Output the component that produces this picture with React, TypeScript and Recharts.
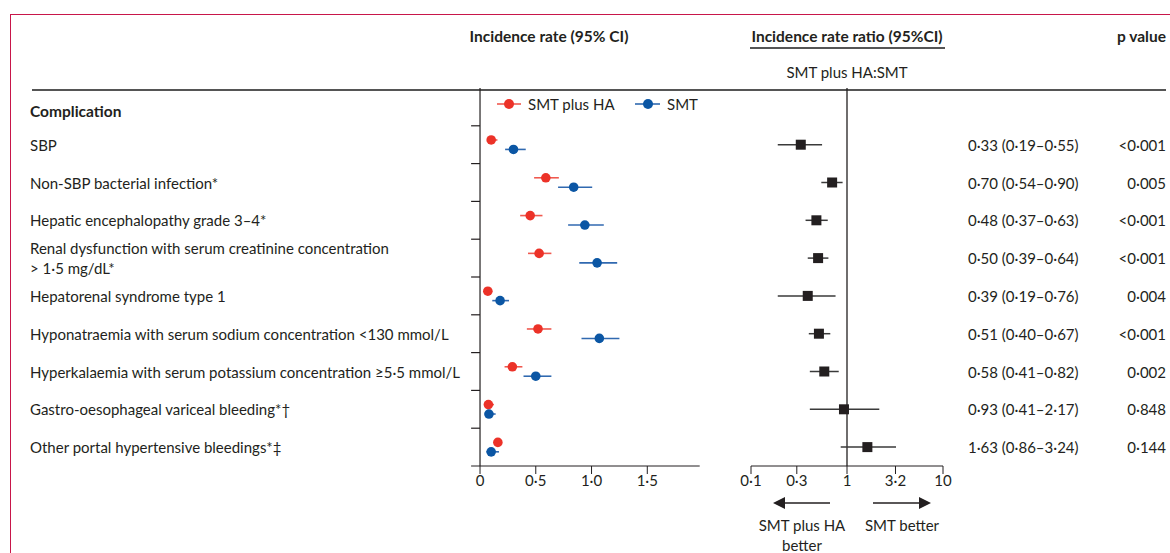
import React from 'react';
import { ScatterChart, Scatter, XAxis, YAxis, ReferenceLine } from 'recharts';

const FONT = 'Lato, "Open Sans", sans-serif';
const INK = '#231f20';
const RED = '#ec3228';
const RED_CI = '#f0594f';
const BLUE = '#0b56a4';
const BLUE_CI = '#3069b0';

const complications = [
  'SBP',
  'Non-SBP bacterial infection*',
  'Hepatic encephalopathy grade 3–4*',
  'Renal dysfunction with serum creatinine concentration\n> 1·5 mg/dL*',
  'Hepatorenal syndrome type 1',
  'Hyponatraemia with serum sodium concentration <130 mmol/L',
  'Hyperkalaemia with serum potassium concentration ≥5·5 mmol/L',
  'Gastro-oesophageal variceal bleeding*†',
  'Other portal hypertensive bleedings*‡',
];

// incidence rate, SMT plus HA
const haRate = [0.1, 0.59, 0.45, 0.53, 0.07, 0.52, 0.29, 0.075, 0.16];
const haLow = [0.066, 0.485, 0.36, 0.43, 0.036, 0.42, 0.22, 0.04, 0.125];
const haHigh = [0.156, 0.707, 0.56, 0.64, 0.11, 0.64, 0.38, 0.125, 0.19];

// incidence rate, SMT
const smtRate = [0.3, 0.84, 0.94, 1.05, 0.18, 1.07, 0.5, 0.08, 0.1];
const smtLow = [0.225, 0.7, 0.79, 0.89, 0.11, 0.91, 0.39, 0.045, 0.057];
const smtHigh = [0.41, 1.006, 1.11, 1.23, 0.26, 1.25, 0.64, 0.14, 0.17];

// incidence rate ratio
const irr = [0.33, 0.7, 0.48, 0.5, 0.39, 0.51, 0.58, 0.93, 1.63];
const irrLow = [0.19, 0.54, 0.37, 0.39, 0.19, 0.4, 0.41, 0.41, 0.86];
const irrHigh = [0.55, 0.9, 0.63, 0.64, 0.76, 0.67, 0.82, 2.17, 3.24];
const pValues = ['<0·001', '0·005', '<0·001', '<0·001', '0·004', '<0·001', '0·002', '0·848', '0·144'];

const rateTicks = [0, 0.5, 1, 1.5];
const ratioTicks = [0.1, 0.3, 1, 3.2, 10];

// layout
const CHART_TOP = 80;
const CHART_H = 420;
const PLOT_TOP = 88;
const PLOT_BOTTOM = 466;
const ROWS = 10;
const ROW_H = (PLOT_BOTTOM - PLOT_TOP) / ROWS;
const DODGE = 0.125;

const rowCenter = (i: number) => i + 1.5;
const rowPx = (i: number) => PLOT_TOP + ROW_H * rowCenter(i);

const dec = (v: number, d: number) => v.toFixed(d).replace('.', '·');

const haPoints = complications.map((_, i) => ({ x: haRate[i], y: rowCenter(i) - DODGE }));
const smtPoints = complications.map((_, i) => ({ x: smtRate[i], y: rowCenter(i) + DODGE }));
const irrPoints = complications.map((_, i) => ({ x: irr[i], y: rowCenter(i) }));
const boundaries = [1, 2, 3, 4, 5, 6, 7, 8, 9];

function Txt({ x, y, anchor = 'start', bold = false, size = 15, children }: any) {
  const tx = anchor === 'middle' ? '-50%' : anchor === 'end' ? '-100%' : '0';
  return (
    <div
      style={{
        position: 'absolute',
        left: x,
        top: y,
        transform: `translate(${tx}, -50%)`,
        whiteSpace: 'nowrap',
        lineHeight: 1,
        fontSize: size,
        fontWeight: bold ? 700 : 400,
        color: INK,
      }}
    >
      {children}
    </div>
  );
}

const dot = (color: string) => (p: any) => <circle cx={p.cx} cy={p.cy} r={4.8} fill={color} />;
const square = (p: any) => <rect x={p.cx - 5} y={p.cy - 5} width={10} height={10} fill={INK} />;

const tickStyle = { fill: INK, fontSize: 15, fontFamily: FONT };

function RateChart() {
  return (
    <ScatterChart
      width={280}
      height={CHART_H}
      margin={{ top: PLOT_TOP - CHART_TOP, right: 20.3, bottom: 4, left: 31.1 }}
      style={{ position: 'absolute', left: 440, top: CHART_TOP }}
    >
      <XAxis
        type="number"
        dataKey="x"
        domain={[-0.08, 1.97]}
        ticks={rateTicks}
        tickFormatter={(v: number) => (v === 0 ? '0' : dec(v, 1))}
        height={30}
        tickSize={8}
        tickMargin={1}
        stroke={INK}
        tick={tickStyle}
        allowDataOverflow
      />
      <YAxis type="number" dataKey="y" domain={[0, ROWS]} reversed hide width={0} />
      <ReferenceLine x={0} stroke={INK} strokeWidth={1.2} />
      {boundaries.map((b) => (
        <ReferenceLine key={'t' + b} segment={[{ x: -0.08, y: b }, { x: 0, y: b }]} stroke={INK} strokeWidth={1.2} />
      ))}
      {complications.map((_, i) => (
        <ReferenceLine
          key={'h' + i}
          segment={[{ x: haLow[i], y: rowCenter(i) - DODGE }, { x: haHigh[i], y: rowCenter(i) - DODGE }]}
          stroke={RED_CI}
          strokeWidth={1.6}
        />
      ))}
      {complications.map((_, i) => (
        <ReferenceLine
          key={'s' + i}
          segment={[{ x: smtLow[i], y: rowCenter(i) + DODGE }, { x: smtHigh[i], y: rowCenter(i) + DODGE }]}
          stroke={BLUE_CI}
          strokeWidth={1.6}
        />
      ))}
      <Scatter name="SMT plus HA" data={haPoints} shape={dot(RED)} isAnimationActive={false} />
      <Scatter name="SMT" data={smtPoints} shape={dot(BLUE)} isAnimationActive={false} />
    </ScatterChart>
  );
}

function RatioChart() {
  return (
    <ScatterChart
      width={250}
      height={CHART_H}
      margin={{ top: PLOT_TOP - CHART_TOP, right: 27, bottom: 4, left: 31 }}
      style={{ position: 'absolute', left: 720, top: CHART_TOP }}
    >
      <XAxis
        type="number"
        dataKey="x"
        scale="log"
        domain={[0.1, 10]}
        ticks={ratioTicks}
        tickFormatter={(v: number) => String(v).replace('.', '·')}
        height={30}
        tickSize={8}
        tickMargin={1}
        stroke={INK}
        tick={tickStyle}
        allowDataOverflow
      />
      <YAxis type="number" dataKey="y" domain={[0, ROWS]} reversed hide width={0} />
      <ReferenceLine x={1} stroke={INK} strokeWidth={1.3} />
      {complications.map((_, i) => (
        <ReferenceLine
          key={'r' + i}
          segment={[{ x: irrLow[i], y: rowCenter(i) }, { x: irrHigh[i], y: rowCenter(i) }]}
          stroke="#3a3a3a"
          strokeWidth={1.5}
        />
      ))}
      <Scatter name="IRR" data={irrPoints} shape={square} isAnimationActive={false} />
    </ScatterChart>
  );
}

export default function App() {
  return (
    <div
      style={{
        position: 'absolute',
        left: 0,
        top: 0,
        width: 1170,
        height: 553,
        overflow: 'hidden',
        background: '#fff',
        fontFamily: FONT,
        color: INK,
      }}
    >
      <div
        style={{
          position: 'absolute',
          left: 10,
          top: 14,
          width: 1300,
          height: 700,
          borderTop: '1.5px solid #c8164a',
          borderLeft: '1.5px solid #c8164a',
        }}
      />
      <Txt x={549} y={37} anchor="middle" bold size={15.5}>Incidence rate (95% CI)</Txt>
      <Txt x={847} y={37} anchor="middle" bold size={15.5}>Incidence rate ratio (95%CI)</Txt>
      <div style={{ position: 'absolute', left: 750, top: 47, width: 195, height: 2, background: '#555' }} />
      <Txt x={847} y={72} anchor="middle">SMT plus HA:SMT</Txt>
      <Txt x={1166} y={37} anchor="end" bold size={15.5}>p value</Txt>
      <div style={{ position: 'absolute', left: 32, top: 89, width: 1134, height: 2, background: '#555' }} />
      <Txt x={30} y={112} bold size={15.5}>Complication</Txt>

      {complications.map((c, i) => {
        const lines = c.split('\n');
        return lines.map((l, j) => (
          <Txt key={i + '-' + j} x={30} y={rowPx(i) + (j - (lines.length - 1) / 2) * 20}>
            {l}
          </Txt>
        ));
      })}
      {complications.map((_, i) => (
        <Txt key={'irr' + i} x={968} y={rowPx(i)}>
          {`${dec(irr[i], 2)} (${dec(irrLow[i], 2)}–${dec(irrHigh[i], 2)})`}
        </Txt>
      ))}
      {pValues.map((p, i) => (
        <Txt key={'p' + i} x={1166} y={rowPx(i)} anchor="end">
          {p}
        </Txt>
      ))}

      <RateChart />
      <RatioChart />

      {/* legend */}
      <svg style={{ position: 'absolute', left: 490, top: 94 }} width={180} height={20}>
        <line x1={7} y1={10} x2={31} y2={10} stroke={RED_CI} strokeWidth={1.6} />
        <circle cx={19} cy={10} r={5} fill={RED} />
        <line x1={145} y1={10} x2={170} y2={10} stroke={BLUE_CI} strokeWidth={1.6} />
        <circle cx={158} cy={10} r={5} fill={BLUE} />
      </svg>
      <Txt x={528} y={104}>SMT plus HA</Txt>
      <Txt x={667} y={104}>SMT</Txt>

      {/* direction arrows */}
      <svg style={{ position: 'absolute', left: 760, top: 490 }} width={190} height={26}>
        <line x1={70} y1={13} x2={22} y2={13} stroke={INK} strokeWidth={1.5} />
        <polygon points="13,13 25,7 25,19" fill={INK} />
        <line x1={113} y1={13} x2={161} y2={13} stroke={INK} strokeWidth={1.5} />
        <polygon points="171,13 159,7 159,19" fill={INK} />
      </svg>
      <Txt x={802} y={525} anchor="middle">SMT plus HA</Txt>
      <Txt x={802} y={545} anchor="middle">better</Txt>
      <Txt x={902} y={525} anchor="middle">SMT better</Txt>
    </div>
  );
}
